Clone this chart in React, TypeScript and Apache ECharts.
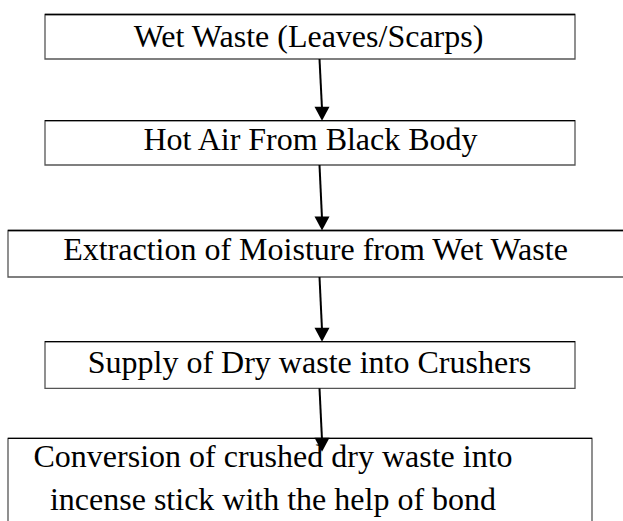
import React, { useEffect, useRef } from "react";
import * as echarts from "echarts";

// Flow steps (text content)
const stepLabels: string[] = [
  "Wet Waste (Leaves/Scarps)",
  "Hot Air From Black Body",
  "Extraction of Moisture from Wet Waste",
  "Supply of Dry waste into Crushers",
  "Conversion of crushed dry waste into\nincense stick with the help of bond",
];

// Layout of each box: [left, top, width, height]
const boxRects: number[][] = [
  [45, 14.5, 530, 44.5],
  [45, 120.7, 530, 44.3],
  [8, 230.5, 620, 46.5],
  [45, 341.7, 530, 46.6],
  [8, 438.3, 584, 100],
];
// Text anchor (centre x, middle y) and font size per box
const textPos: number[][] = [
  [308.5, 35.9, 32],
  [310.5, 138.5, 32],
  [315.5, 249.2, 32],
  [309.5, 361.9, 32],
  [273, 477.7, 32],
];
// Arrows: [startX, startY, tipX, tipY]
const arrows: number[][] = [
  [319.5, 59, 322, 120.7],
  [319.5, 165, 322, 230.5],
  [319.5, 277, 322, 341.7],
  [319.5, 388.3, 322, 451.7],
];

export default function App() {
  const ref = useRef<HTMLDivElement>(null);
  useEffect(() => {
    if (!ref.current) return;
    const chart = echarts.init(ref.current, undefined, { renderer: "svg" });
    const elements: any[] = [];
    boxRects.forEach((b) => {
      elements.push({
        type: "rect",
        shape: { x: b[0], y: b[1], width: b[2], height: b[3] },
        style: { fill: "#fff", stroke: "#555", lineWidth: 1.3 },
        z: 1,
      });
      elements.push({
        type: "line",
        shape: { x1: b[0], y1: b[1], x2: b[0] + b[2], y2: b[1] },
        style: { stroke: "#000", lineWidth: 1.3 },
        z: 2,
      });
    });
    stepLabels.forEach((t, i) => {
      const p = textPos[i];
      elements.push({
        type: "text",
        x: p[0],
        y: p[1],
        z: 3,
        style: {
          text: t,
          fill: "#000",
          fontFamily: "'Liberation Serif', 'Times New Roman', serif",
          fontSize: p[2],
          align: "center",
          verticalAlign: "middle",
          lineHeight: 43,
        },
      });
    });
    arrows.forEach((a) => {
      const headH = 14;
      const headW = 15;
      elements.push({
        type: "line",
        z: 4,
        shape: { x1: a[0], y1: a[1], x2: a[2], y2: a[3] - headH + 2 },
        style: { stroke: "#000", lineWidth: 2 },
      });
      elements.push({
        type: "polygon",
        z: 4,
        shape: {
          points: [
            [a[2] - headW / 2, a[3] - headH],
            [a[2] + headW / 2, a[3] - headH],
            [a[2], a[3]],
          ],
        },
        style: { fill: "#000" },
      });
    });
    chart.setOption({
      animation: false,
      backgroundColor: "#fff",
      graphic: { elements },
    });
    return () => chart.dispose();
  }, []);
  return (
    <div
      ref={ref}
      style={{ position: "absolute", left: 0, top: 0, width: 623, height: 521, overflow: "hidden" }}
    />
  );
}
